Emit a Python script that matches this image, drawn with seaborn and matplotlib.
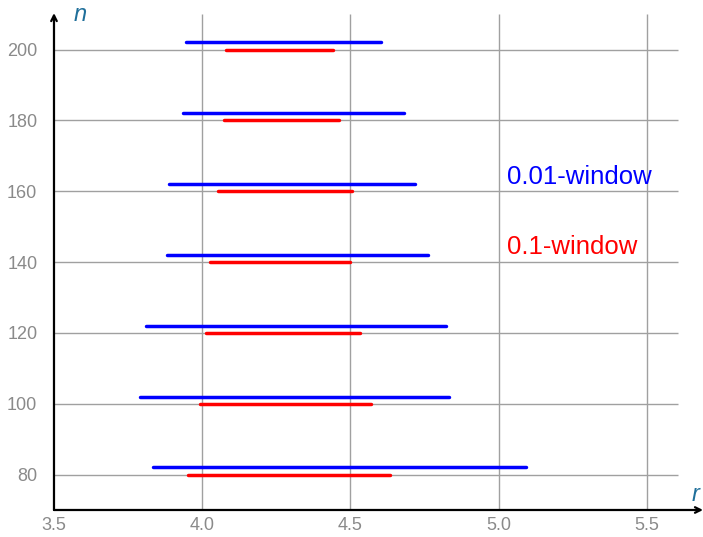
import numpy as np
import pandas as pd
import matplotlib.pyplot as plt
import seaborn as sns

# data
n_values = [80, 100, 120, 140, 160, 180, 200]
blue_lo = [3.834, 3.790, 3.810, 3.883, 3.887, 3.937, 3.947]
blue_hi = [5.092, 4.833, 4.822, 4.763, 4.718, 4.680, 4.605]
red_lo = [3.952, 3.993, 4.013, 4.028, 4.054, 4.072, 4.080]
red_hi = [4.635, 4.569, 4.534, 4.500, 4.506, 4.463, 4.442]
x_ticks = [3.5, 4.0, 4.5, 5.0, 5.5]
y_ticks = [80, 100, 120, 140, 160, 180, 200]

sns.set_style("white")
plt.rcParams['font.family'] = ['Liberation Sans', 'DejaVu Sans']

# long table: one row per segment end
rows = []
for i, n in enumerate(n_values):
    for r in (blue_lo[i], blue_hi[i]):
        rows.append({'n': n, 'y': n + 2, 'r': r, 'window': '0.01-window'})
    for r in (red_lo[i], red_hi[i]):
        rows.append({'n': n, 'y': n, 'r': r, 'window': '0.1-window'})
df = pd.DataFrame(rows)

fig = plt.figure(figsize=(7.03, 5.37), dpi=100)
ax = fig.add_axes([0.0768, 0.0503, 0.9232, 0.93])
x_min, x_max = 3.5, 5.69
y_min, y_max = 70, 211

# grid
grid_col = '#a0a0a0'
ax.hlines(y_ticks, x_min, 5.605, color=grid_col, lw=1.0, zorder=0)
ax.vlines(x_ticks[1:], y_min, 210, color=grid_col, lw=1.0, zorder=0)

sns.lineplot(data=df, x='r', y='y', hue='window', units='n', estimator=None,
             sort=False, palette={'0.01-window': '#0000ff', '0.1-window': '#ff0000'},
             lw=2.5, legend=False, ax=ax)

ax.set_xlim(x_min, x_max)
ax.set_ylim(y_min, y_max)
for s in ax.spines.values():
    s.set_visible(False)

# axis arrows
ax.annotate('', xy=(x_max, y_min), xytext=(x_min, y_min),
            arrowprops=dict(arrowstyle='->', color='black', lw=1.6, shrinkA=0, shrinkB=0))
ax.annotate('', xy=(x_min, 210.3), xytext=(x_min, y_min),
            arrowprops=dict(arrowstyle='->', color='black', lw=1.6, shrinkA=0, shrinkB=0))

ax.set_xticks(x_ticks)
ax.set_xticklabels([f'{t:.1f}' for t in x_ticks])
ax.set_yticks(y_ticks)
ax.tick_params(length=0, labelsize=13, labelcolor='#8a8a8a')
ax.tick_params(axis='x', pad=5)
ax.tick_params(axis='y', pad=12)
ax.set_xlabel('')
ax.set_ylabel('')

ax.text(3.59, 210, 'n', color='#1f6f9a', fontsize=17, style='italic', ha='center', va='center')
ax.text(5.665, 74.5, 'r', color='#1f6f9a', fontsize=17, style='italic', ha='center', va='center')

ax.text(5.03, 164, '0.01-window', color='#0000ff', fontsize=18.5, va='center')
ax.text(5.03, 144.2, '0.1-window', color='#ff0000', fontsize=18.5, va='center')

fig.savefig('out.png', dpi=100)
